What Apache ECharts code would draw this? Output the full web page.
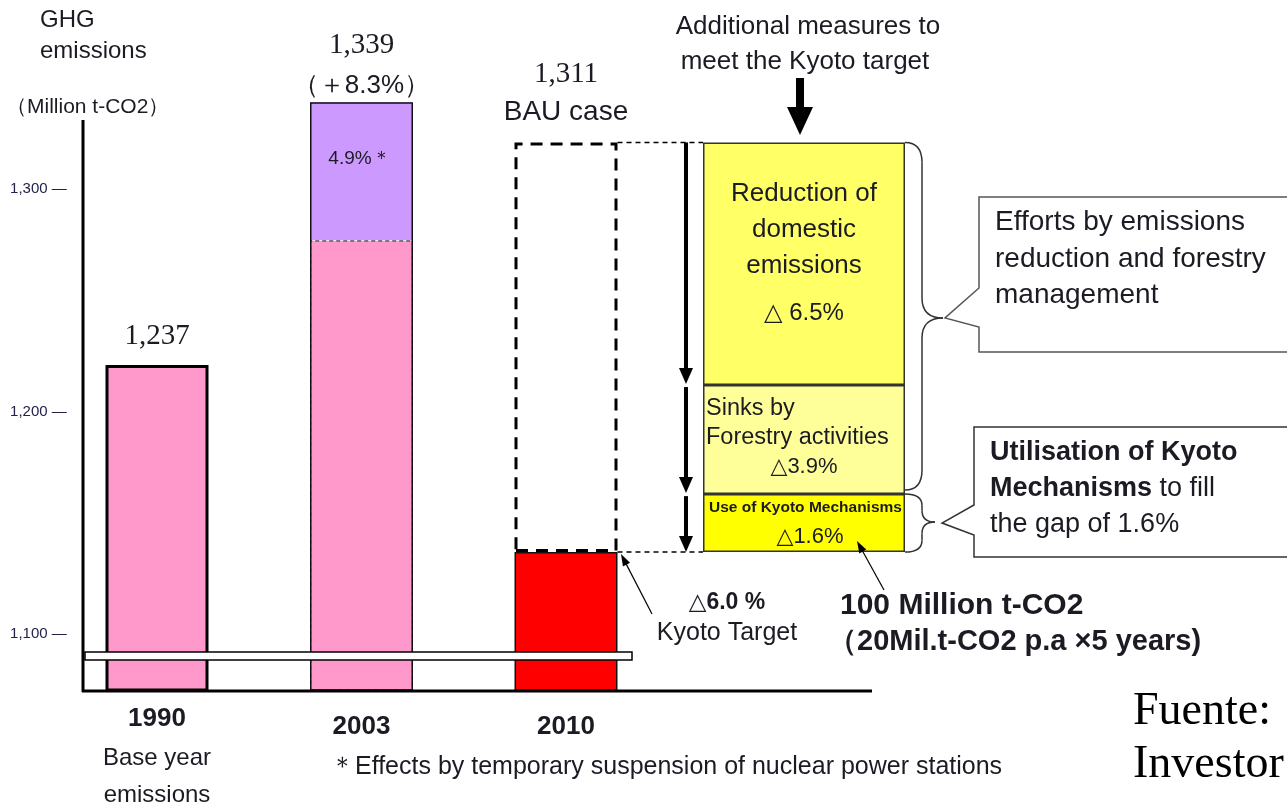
<!DOCTYPE html>
<html>
<head>
<meta charset="utf-8">
<script src="https://cdn.jsdelivr.net/npm/echarts@6/dist/echarts.min.js"></script>
<style>
  html, body { margin: 0; background: #fff; }
  #chart { width: 1287px; height: 803px; }
</style>
</head>
<body>
<div id="chart"></div>
<script>
const years = ['1990', '2003', '2010'];
const baseEmissions = [1221, 1277, 1137];   // 1990 base, 2003 w/o nuclear effect, 2010 Kyoto target
const nuclearEffect = [null, 62, null];     // purple part of 2003
const bauGap = [null, null, 184];           // dashed BAU case above the target
const total2003 = [null, 1339, null];
const valueLabels = ['1,237', '1,339', '1,311'];
const subLabels = ['', '（＋8.3%）', 'BAU case'];

const measureBase = 1137;
const measureValues = [26, 49, 109];        // Kyoto mechanisms, forestry sinks, domestic reduction
const measureShares = ['△1.6%', '△3.9%', '△ 6.5%'];

const yTicks = [1100, 1200, 1300];
const yMin = 1075, yMax = 1345;

const SANS = '"Liberation Sans", Arial, "DejaVu Sans", sans-serif';
const SERIF = '"Liberation Serif", "Times New Roman", serif';
const INK = '#1b1b24';

const chart = echarts.init(document.getElementById('chart'));

const yAxisBase = { type: 'value', min: yMin, max: yMax, splitLine: { show: false } };

chart.setOption({
    backgroundColor: '#fff',
    animation: false,
    grid: [
        { left: 54.75, width: 613.5, top: 89, bottom: 113, containLabel: false, outerBoundsMode: 'none' },
        { left: 703, width: 202, top: 89, bottom: 113, containLabel: false, outerBoundsMode: 'none' }
    ],
    xAxis: [
        {
            type: 'category', gridIndex: 0, data: years,
            axisLine: { show: false }, axisTick: { show: false },
            axisLabel: {
                margin: 12,
                formatter: (v, i) => i === 0 ? '{y|1990}\n{s|Base year}\n{s2|emissions}' : '{y2|' + v + '}',
                rich: {
                    y: { fontFamily: SANS, fontSize: 26, fontWeight: 'bold', color: INK, lineHeight: 34 },
                    y2: { fontFamily: SANS, fontSize: 26, fontWeight: 'bold', color: INK, lineHeight: 50 },
                    s: { fontFamily: SANS, fontSize: 24, color: INK, lineHeight: 44 },
                    s2: { fontFamily: SANS, fontSize: 24, color: INK, lineHeight: 30 }
                }
            }
        },
        { type: 'category', gridIndex: 1, data: ['measures'], show: false }
    ],
    yAxis: [
        Object.assign({}, yAxisBase, {
            gridIndex: 0, offset: -28,
            axisLine: { show: false },
            axisTick: { show: false },
            axisLabel: {
                customValues: yTicks, margin: 16,
                fontFamily: SANS, fontSize: 15, color: '#22224a',
                formatter: v => v.toLocaleString('en-US') + ' —'
            }
        }),
        Object.assign({}, yAxisBase, { gridIndex: 1, show: false })
    ],
    series: [
        {
            name: 'emissions', type: 'bar', stack: 'a', barWidth: 103, barGap: '-100%',
            data: baseEmissions.map((v, i) => ({
                value: v,
                itemStyle: [
                    { color: '#FF99CC', borderColor: '#000', borderWidth: 3 },
                    { color: '#FF99CC', borderColor: '#333', borderWidth: 1.2, borderType: [4, 3] },
                    { color: '#FF0000', borderColor: '#111', borderWidth: 1.5 }
                ][i],
                label: i === 0 ? {
                    show: true, position: 'top', distance: 14, formatter: valueLabels[0],
                    fontFamily: SERIF, fontSize: 29, color: INK
                } : { show: false }
            }))
        },
        {
            name: 'nuclear', type: 'bar', stack: 'a', barWidth: 103, barGap: '-100%',
            itemStyle: { color: '#CC99FF' },
            label: {
                show: true, position: 'insideTop', distance: 47, offset: [-2, 0],
                formatter: '4.9%＊', fontFamily: SANS, fontSize: 19, color: INK
            },
            data: nuclearEffect
        },
        {
            name: 'BAU', type: 'bar', stack: 'a', barWidth: 103, barGap: '-100%',
            itemStyle: { color: 'transparent', borderColor: '#000', borderWidth: 3, borderType: [12, 8] },
            label: {
                show: true, position: 'top', distance: 12,
                formatter: p => '{v|' + valueLabels[p.dataIndex] + '}\n{c|' + subLabels[p.dataIndex] + '}',
                rich: {
                    v: { fontFamily: SERIF, fontSize: 29, color: INK, lineHeight: 40 },
                    c: { fontFamily: SANS, fontSize: 28, color: INK, lineHeight: 36 }
                }
            },
            data: bauGap
        },
        {
            name: 'total 2003', type: 'bar', barWidth: 103, barGap: '-100%',
            itemStyle: { color: 'transparent', borderColor: '#111', borderWidth: 1.5 },
            label: {
                show: true, position: 'top', distance: 0,
                formatter: p => '{v|' + valueLabels[p.dataIndex] + '}\n{c|' + subLabels[p.dataIndex] + '}',
                rich: {
                    v: { fontFamily: SERIF, fontSize: 29, color: INK, lineHeight: 46 },
                    c: { fontFamily: SANS, fontSize: 26, color: INK, lineHeight: 34 }
                }
            },
            data: total2003
        },
        // additional measures column
        {
            name: 'base', type: 'bar', stack: 'm', xAxisIndex: 1, yAxisIndex: 1, barWidth: '100%',
            itemStyle: { color: 'transparent' }, data: [measureBase]
        },
        {
            name: 'Use of Kyoto Mechanisms', type: 'bar', stack: 'm', xAxisIndex: 1, yAxisIndex: 1, barWidth: '100%',
            itemStyle: { color: '#FFFF00', borderColor: '#333', borderWidth: 1.5 },
            label: {
                show: true, position: 'insideTop', distance: 3, offset: [6, 0],
                formatter: '{t|Use of Kyoto Mechanisms}\n{p|' + measureShares[0] + '}',
                rich: {
                    t: { width: 202, align: 'left', fontFamily: SANS, fontSize: 15.5, fontWeight: 'bold', color: INK, lineHeight: 22 },
                    p: { width: 202, align: 'center', fontFamily: SANS, fontSize: 22, color: INK, lineHeight: 36 }
                }
            },
            data: [measureValues[0]]
        },
        {
            name: 'Sinks by Forestry activities', type: 'bar', stack: 'm', xAxisIndex: 1, yAxisIndex: 1, barWidth: '100%',
            itemStyle: { color: '#FFFF99', borderColor: '#333', borderWidth: 1.5 },
            label: {
                show: true, position: 'insideTop', distance: 9,
                formatter: '{l|Sinks by}\n{l|Forestry activities}\n{c|' + measureShares[1] + '}',
                rich: {
                    l: { width: 196, align: 'left', fontFamily: SANS, fontSize: 23.5, color: INK, lineHeight: 29 },
                    c: { width: 196, align: 'center', fontFamily: SANS, fontSize: 22, color: INK, lineHeight: 29 }
                }
            },
            data: [measureValues[1]]
        },
        {
            name: 'Reduction of domestic emissions', type: 'bar', stack: 'm', xAxisIndex: 1, yAxisIndex: 1, barWidth: '100%',
            itemStyle: { color: '#FFFF66', borderColor: '#333', borderWidth: 1.5 },
            label: {
                show: true, position: 'insideTop', distance: 33,
                formatter: '{a|Reduction of}\n{a|domestic}\n{a|emissions}\n{p|' + measureShares[2] + '}',
                rich: {
                    a: { fontFamily: SANS, fontSize: 26, color: INK, lineHeight: 36, align: 'center' },
                    p: { fontFamily: SANS, fontSize: 24, color: INK, lineHeight: 60, align: 'center' }
                }
            },
            data: [measureValues[2]]
        }
    ]
});

// --- annotations, placed from the axes' own pixel mapping ---
const px = v => chart.convertToPixel({ yAxisIndex: 0 }, v);
const x2010 = chart.convertToPixel({ xAxisIndex: 0 }, '2010');
const bauRight = x2010 + 51.5;
const yBase = px(yMin);
const yBau = px(measureBase + measureValues.reduce((a, b) => a + b, 0));
const yS1 = px(measureBase + measureValues[0] + measureValues[1]);
const yS2 = px(measureBase + measureValues[0]);
const yTgt = px(measureBase);
const colX = 703, colR = 905, arrX = 686;

function text(x, y, str, size, opts) {
    opts = opts || {};
    return {
        type: 'text', x: x, y: y, z: 50,
        style: Object.assign({
            text: str, fill: INK, textAlign: opts.align || 'left', textVerticalAlign: 'middle',
            font: (opts.weight || 'normal') + ' ' + size + 'px ' + (opts.family || SANS)
        }, opts.style || {})
    };
}
function head(x1, y1, x2, y2, len, half) {
    const d = Math.hypot(x2 - x1, y2 - y1), ux = (x2 - x1) / d, uy = (y2 - y1) / d;
    const bx = x2 - ux * len, by = y2 - uy * len;
    return { type: 'polygon', z: 40, shape: { points: [[x2, y2], [bx - uy * half, by + ux * half], [bx + uy * half, by - ux * half]] }, style: { fill: '#000' } };
}
function arrow(x1, y1, x2, y2, w, len, half) {
    const d = Math.hypot(x2 - x1, y2 - y1);
    const ex = x2 - (x2 - x1) / d * (len - 2), ey = y2 - (y2 - y1) / d * (len - 2);
    return [
        { type: 'line', z: 40, shape: { x1: x1, y1: y1, x2: ex, y2: ey }, style: { stroke: '#000', lineWidth: w } },
        head(x1, y1, x2, y2, len, half)
    ];
}
function brace(x0, top, bottom, tipX, tipY, xm) {
    const r = Math.min(20, (bottom - top) / 5);
    const st = { stroke: '#333', lineWidth: 1.5, fill: 'none' };
    return [
        { type: 'bezierCurve', shape: { x1: x0, y1: top, cpx1: xm, cpy1: top, x2: xm, y2: top + r }, style: st },
        { type: 'line', shape: { x1: xm, y1: top + r, x2: xm, y2: tipY - r }, style: st },
        { type: 'bezierCurve', shape: { x1: xm, y1: tipY - r, cpx1: xm, cpy1: tipY, x2: tipX, y2: tipY }, style: st },
        { type: 'bezierCurve', shape: { x1: tipX, y1: tipY, cpx1: xm, cpy1: tipY, x2: xm, y2: tipY + r }, style: st },
        { type: 'line', shape: { x1: xm, y1: tipY + r, x2: xm, y2: bottom - r }, style: st },
        { type: 'bezierCurve', shape: { x1: xm, y1: bottom - r, cpx1: xm, cpy1: bottom, x2: x0, y2: bottom }, style: st }
    ];
}

const g = [];
// y axis line, baseline and axis break
g.push({ type: 'line', z: 30, shape: { x1: 83, y1: 120, x2: 83, y2: yBase + 2 }, style: { stroke: '#000', lineWidth: 3 } });
g.push({ type: 'line', z: 30, shape: { x1: 82, y1: yBase + 1, x2: 872, y2: yBase + 1 }, style: { stroke: '#000', lineWidth: 3 } });
g.push({ type: 'rect', z: 45, shape: { x: 85, y: 652, width: 547, height: 8 }, style: { fill: '#fff', stroke: '#000', lineWidth: 1.5 } });
// dashed connectors from BAU box to measures column
g.push({ type: 'line', z: 30, shape: { x1: bauRight, y1: yBau, x2: colX, y2: yBau }, style: { stroke: '#000', lineWidth: 1.5, lineDash: [5, 4] } });
g.push({ type: 'line', z: 30, shape: { x1: bauRight, y1: yTgt, x2: colX, y2: yTgt }, style: { stroke: '#000', lineWidth: 1.5, lineDash: [5, 4] } });
// downward arrows beside the column
g.push(...arrow(arrX, yBau, arrX, yS1 - 1, 4, 16, 7));
g.push(...arrow(arrX, yS1 + 2, arrX, yS2 - 1, 4, 16, 7));
g.push(...arrow(arrX, yS2 + 2, arrX, yTgt, 4, 16, 7));
// big arrow from the heading
g.push({ type: 'polygon', z: 40, shape: { points: [[796, 78], [804, 78], [804, 107], [813, 107], [800, 135], [787, 107], [796, 107]] }, style: { fill: '#000' } });
// pointers
g.push(...arrow(652, 614, 621, 554, 1.2, 12, 4));
g.push(...arrow(884, 590, 857, 541, 1.2, 12, 4));
// braces
g.push(...brace(colR, yBau, yS1 + 105, 943, 318, 922));
g.push(...brace(colR, yS2, yTgt, 935, 522, 922));
// callout boxes
g.push({ type: 'polygon', z: 20, shape: { points: [[979, 197], [1292, 197], [1292, 352], [979, 352], [979, 327], [945, 318], [979, 288]] }, style: { fill: '#fff', stroke: '#555', lineWidth: 1.5 } });
g.push({ type: 'polygon', z: 20, shape: { points: [[974, 427], [1292, 427], [1292, 557], [974, 557], [974, 535], [942, 523], [974, 505]] }, style: { fill: '#fff', stroke: '#333', lineWidth: 1.5 } });

// texts
g.push(text(40, 20, 'GHG', 24));
g.push(text(40, 51, 'emissions', 24));
g.push(text(6, 107, '（Million t-CO2）', 21));
g.push(text(808, 27, 'Additional measures to', 26, { align: 'center' }));
g.push(text(805, 62, 'meet the Kyoto target', 26, { align: 'center' }));
g.push(text(995, 222, 'Efforts by emissions', 28));
g.push(text(995, 259, 'reduction and forestry', 28));
g.push(text(995, 295, 'management', 28));
g.push({
    type: 'text', x: 990, y: 435, z: 50,
    style: {
        text: '{b|Utilisation of Kyoto}\n{b|Mechanisms}{n| to fill}\n{n|the gap of 1.6%}',
        fill: INK, textAlign: 'left', textVerticalAlign: 'top',
        rich: {
            b: { font: 'bold 27px ' + SANS, fill: INK, lineHeight: 36 },
            n: { font: 'normal 27px ' + SANS, fill: INK, lineHeight: 36 }
        }
    }
});
g.push(text(727, 603, '△6.0 %', 23, { align: 'center', weight: 'bold' }));
g.push(text(727, 633, 'Kyoto Target', 25, { align: 'center' }));
g.push(text(840, 606, '100 Million t-CO2', 30, { weight: 'bold' }));
g.push(text(828, 642, '（20Mil.t-CO2 p.a ×5 years)', 29, { weight: 'bold' }));
g.push(text(330, 767, '＊Effects by temporary suspension of nuclear power stations', 25));
g.push(text(1133, 712, 'Fuente:', 46, { family: SERIF, style: { fill: '#000' } }));
g.push(text(1133, 765, 'Investor', 46, { family: SERIF, style: { fill: '#000' } }));

chart.setOption({ graphic: g });

window.addEventListener('resize', () => chart.resize());
</script>
</body>
</html>
